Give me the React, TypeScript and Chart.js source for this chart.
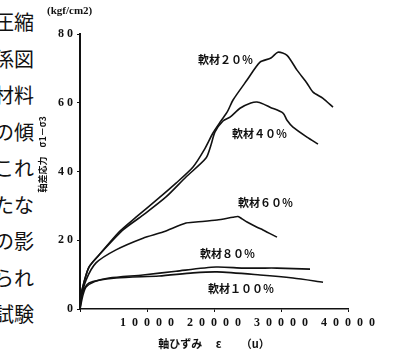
import React, { useEffect, useRef } from 'react';
import { Chart, registerables } from 'chart.js';

Chart.register(...registerables);

// ---- data (strain in μ, stress in kgf/cm2) ----
const strain20 = [0, 100, 600, 1340, 2840, 5820, 8360, 11790, 14330, 16870, 18510, 19850, 21000, 22000, 22840, 24930, 26870, 28500, 29550, 30900, 32390, 33880, 34780, 36270, 37760];
const stress20 = [0, 3.5, 7.8, 12.2, 15.7, 22.4, 26.7, 32.3, 36.6, 41.3, 46.2, 51.2, 54.6, 57.4, 60.8, 66.6, 71.8, 73.0, 74.7, 73.8, 69.5, 65.7, 63.1, 61.3, 58.7];

const strain40 = [0, 100, 600, 1340, 2840, 6420, 9400, 12840, 15820, 18810, 19550, 20150, 21340, 22390, 23880, 25500, 26420, 27400, 28360, 30300, 30900, 31790, 33880, 35520];
const stress40 = [0, 3.5, 7.8, 12.2, 15.7, 23.0, 27.3, 32.6, 38.4, 43.9, 47.7, 51.5, 54.7, 55.8, 58.4, 59.9, 60.2, 59.6, 58.7, 57.0, 54.9, 52.9, 50.0, 48.0];

const strain60 = [0, 150, 900, 2390, 5370, 9400, 12390, 15820, 17310, 20450, 22840, 23580, 24200, 24930, 26420, 27310, 29400];
const stress60 = [0, 3.0, 8.4, 13.4, 17.2, 20.6, 22.4, 25.0, 25.3, 25.9, 26.7, 26.9, 26.2, 25.3, 23.8, 23.0, 20.9];

const strain80 = [0, 450, 900, 2200, 4330, 9400, 14330, 20300, 24330, 26870, 29400, 34330];
const stress80 = [0, 4.1, 6.4, 8.0, 9.0, 9.9, 11.0, 12.2, 11.9, 11.9, 11.9, 11.6];

const strain100 = [0, 300, 1340, 5370, 11790, 16870, 20450, 26870, 31790, 36270];
const stress100 = [0, 4.5, 7.6, 9.0, 9.6, 10.5, 10.8, 9.9, 9.0, 7.8];

const seriesNames = ['軟材２０％', '軟材４０％', '軟材６０％', '軟材８０％', '軟材１００％'];
const labelStrain = [17610, 22690, 23580, 17910, 19100];
const labelStress = [72.4, 50.9, 30.8, 16.0, 5.8];

const xTicks = [10000, 20000, 30000, 40000];
const yTicks = [0, 20, 40, 60, 80];
const xTitle = '軸ひずみ　 ε　 　（u）';
const yTitle = '軸差応力　σ1－σ3';
const unitText = '(kgf/cm2)';

const bodyLines = ['圧縮', '係図', '材料', 'の傾', 'これ', 'たな', 'の影', 'られ', '試験'];

const INK = '#111';

function pts(xs: number[], ys: number[]) {
  return xs.map((x, i) => ({ x, y: ys[i] }));
}

const textPlugin = {
  id: 'chartTexts',
  afterDatasetsDraw(chart: any) {
    const { ctx } = chart;
    const xs = chart.scales.x;
    const ys = chart.scales.y;
    ctx.save();
    ctx.fillStyle = INK;
    ctx.textBaseline = 'middle';
    ctx.textAlign = 'left';
    ctx.font = 'bold 11px "Noto Sans CJK JP"';
    seriesNames.forEach((t, i) => {
      ctx.fillText(t, xs.getPixelForValue(labelStrain[i]), ys.getPixelForValue(labelStress[i]));
    });
    ctx.font = 'bold 11px "Liberation Serif"';
    ctx.fillText(unitText, xs.left - 33, ys.top - 23);
    ctx.translate(xs.left - 37, ys.getPixelForValue(45));
    ctx.rotate(-Math.PI / 2);
    ctx.textAlign = 'center';
    ctx.font = 'bold 9px "Noto Sans CJK JP"';
    ctx.fillText(yTitle, 0, 0);
    ctx.restore();
  },
};

export default function App() {
  const ref = useRef<HTMLCanvasElement | null>(null);

  useEffect(() => {
    if (!ref.current) return;
    const mk = (xs: number[], ys: number[]) => ({
      data: pts(xs, ys),
      borderColor: INK,
      borderWidth: 1.6,
      pointRadius: 0,
      tension: 0.25,
      fill: false,
    });
    const chart = new Chart(ref.current, {
      type: 'line',
      data: {
        datasets: [
          { label: seriesNames[0], ...mk(strain20, stress20) },
          { label: seriesNames[1], ...mk(strain40, stress40) },
          { label: seriesNames[2], ...mk(strain60, stress60) },
          { label: seriesNames[3], ...mk(strain80, stress80) },
          { label: seriesNames[4], ...mk(strain100, stress100) },
        ],
      },
      options: {
        animation: false,
        responsive: false,
        devicePixelRatio: 1,
        layout: { padding: { left: 0, right: 45, top: 34, bottom: 0 } },
        plugins: { legend: { display: false }, tooltip: { enabled: false } },
        scales: {
          x: {
            type: 'linear',
            min: 0,
            max: 40000,
            afterFit(s: any) { s.height = 49; },
            afterBuildTicks(s: any) { s.ticks = [0, ...xTicks].map((v) => ({ value: v })); },
            border: { display: true, color: INK, width: 1.5 },
            grid: { display: true, drawOnChartArea: false, drawTicks: true, tickLength: 3, color: INK, lineWidth: 1 },
            ticks: {
              autoSkip: false,
              maxRotation: 0,
              padding: 4,
              color: INK,
              font: { family: '"Liberation Serif"', size: 12, weight: 'bold' },
              callback: (v: any) => (v === 0 ? '' : String(v).split('').join('\u2002')),
            },
            title: {
              display: true,
              text: xTitle,
              color: INK,
              font: { family: '"Noto Sans CJK JP"', size: 11, weight: 'bold' },
              padding: { top: 0, bottom: 8 },
            },
          },
          y: {
            min: 0,
            max: 80,
            afterFit(s: any) { s.width = 80; },
            afterBuildTicks(s: any) { s.ticks = yTicks.map((v) => ({ value: v })); },
            border: { display: true, color: INK, width: 2 },
            grid: { display: true, drawOnChartArea: false, drawTicks: true, tickLength: 3, color: INK, lineWidth: 1 },
            ticks: {
              padding: 4,
              color: INK,
              font: { family: '"Liberation Serif"', size: 12, weight: 'bold' },
              callback: (v: any) => String(v).split('').join(' '),
            },
          },
        },
      },
      plugins: [textPlugin],
    } as any);
    return () => chart.destroy();
  }, []);

  return (
    <div style={{ position: 'fixed', left: 0, top: 0, width: 393, height: 358, overflow: 'hidden', background: '#fff' }}>
      {bodyLines.map((t, i) => (
        <div
          key={i}
          style={{
            position: 'absolute',
            left: -6,
            top: 11 + i * 36.5,
            fontSize: 20,
            lineHeight: '22px',
            fontFamily: '"Noto Sans CJK JP"',
            color: INK,
            whiteSpace: 'nowrap',
          }}
        >
          {t}
        </div>
      ))}
      <canvas ref={ref} width={393} height={358} style={{ position: 'absolute', left: 0, top: 0 }} />
    </div>
  );
}
